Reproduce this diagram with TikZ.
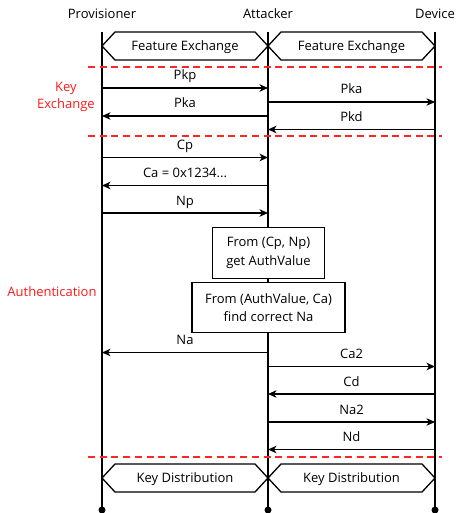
\documentclass[tikz,border=0pt]{standalone}
\usepackage{fontspec}
\setmainfont{Open Sans}
\usetikzlibrary{arrows.meta}

% lifeline positions
\def\xP{102}
\def\xA{268}
\def\xD{435}

\newcommand\phasebox[5]{% #1 name, #2 left x, #3 right x, #4 centre y, #5 text
  \draw[hexa] (#2,#4) -- (#2+13,#4-14) -- (#3-13,#4-14) -- (#3,#4)
    -- (#3-13,#4+14) -- (#2+13,#4+14) -- cycle;
  \node[lbl, anchor=base] (#1) at ({(#2+#3)/2},#4+4.3) {#5};
}

\begin{document}
\begin{tikzpicture}[x=1pt,y=-1pt,
  lbl/.style={font=\fontsize{13}{15}\selectfont, inner sep=0pt},
  life/.style={line width=1.3pt},
  msg/.style={line width=1.3pt,-{Stealth[length=8.5pt,width=7.5pt,inset=2.5pt]}},
  hexa/.style={line width=1.3pt, fill=white},
  actionbox/.style={lbl, draw, line width=1.3pt, fill=white, align=center,
    inner xsep=8pt, inner ysep=0pt, font=\fontsize{13}{18.5}\selectfont},
  phaseline/.style={draw=red!85!white, line width=1.3pt, dash pattern=on 7pt off 4.7pt},
  phaselabel/.style={lbl, text=red!90!white, align=center, font=\fontsize{13}{16.6}\selectfont},
  dot/.style={circle, fill=black, inner sep=0pt, minimum size=7pt}
]
\useasboundingbox (0,0) rectangle (456,513);

% participants
\node[lbl, anchor=base] (prov) at (\xP,18.5) {Provisioner};
\node[lbl, anchor=base] (att) at (\xA,18.5) {Attacker};
\node[lbl, anchor=base] (dev) at (\xD,18.5) {Device};

% lifelines
\foreach \n/\x in {P/\xP, A/\xA, D/\xD} {
  \coordinate (top\n) at (\x,32);
  \node[dot] (end\n) at (\x,510) {};
  \draw[life] (top\n) -- (end\n.center);
}

% phase separators
\coordinate (sep1l) at (88,67);   \coordinate (sep1r) at (442,67);
\coordinate (sep2l) at (88,136);  \coordinate (sep2r) at (442,136);
\coordinate (sep3l) at (88,457);  \coordinate (sep3r) at (442,457);
\draw[phaseline] (sep1l) -- (sep1r);
\draw[phaseline] (sep2l) -- (sep2r);
\draw[phaseline] (sep3l) -- (sep3r);

\node[phaselabel] (kex) at (66,97) {Key\\Exchange};
\node[phaselabel] (auth) at (52,292) {Authentication};

% feature exchange and key distribution
\phasebox{fe1}{\xP}{\xA}{46}{Feature Exchange}
\phasebox{fe2}{\xA}{\xD}{46}{Feature Exchange}
\phasebox{kd1}{\xP}{\xA}{478}{Key Distribution}
\phasebox{kd2}{\xA}{\xD}{478}{Key Distribution}

% messages: y / from / to / label
\foreach \y/\f/\t/\txt [count=\i] in {
  88/P/A/Pkp, 102/A/D/Pka, 116/A/P/Pka, 129.5/D/A/Pkd,
  157.5/P/A/Cp, 185.5/A/P/{Ca = 0x1234...}, 213/P/A/Np,
  352.5/A/P/Na, 366.5/A/D/Ca2, 394/D/A/Cd, 422/A/D/Na2, 449.5/D/A/Nd} {
  \coordinate (m\i s) at (\csname x\f\endcsname,\y);
  \coordinate (m\i e) at (\csname x\t\endcsname,\y);
  \draw[msg] (m\i s) -- node[lbl, anchor=base, yshift=8pt] (l\i) {\txt} (m\i e);
}

% attacker computations
\node[actionbox, minimum width=112pt, minimum height=50.5pt] (calc1) at (268.5,253)
  {From (Cp, Np)\\get AuthValue};
\node[actionbox, minimum width=153pt, minimum height=50pt] (calc2) at (268.5,307.5)
  {From (AuthValue, Ca)\\find correct Na};
\end{tikzpicture}
\end{document}
